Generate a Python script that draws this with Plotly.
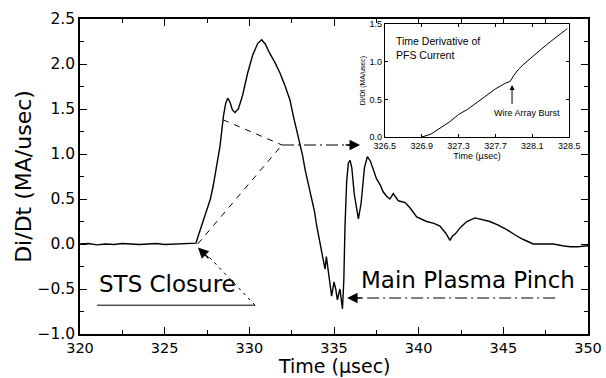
import plotly.graph_objects as go

# ---- main trace data (time in µs, dI/dt in MA/µs) ----
t_main = [320.0, 320.5, 321.0, 321.5, 322.0, 322.5, 323.0, 323.5, 324.0, 324.5,
          325.0, 325.5, 326.0, 326.5, 326.85, 327.0, 327.25, 327.48, 327.7, 327.87,
          328.05, 328.27, 328.47, 328.6, 328.72, 328.85, 329.0, 329.15, 329.35, 329.6,
          329.9, 330.2, 330.5, 330.73, 330.95, 331.2, 331.5, 331.81, 332.1, 332.4,
          332.6, 332.8, 333.0, 333.15, 333.29, 333.5, 333.68, 333.85, 333.98, 334.1,
          334.27, 334.4, 334.47, 334.55, 334.7, 334.86, 335.0, 335.1, 335.2, 335.35,
          335.5, 335.58, 335.65, 335.75, 335.85, 335.95, 336.05, 336.2, 336.44, 336.6,
          336.8, 336.97, 337.15, 337.35, 337.52, 337.72, 337.9, 338.11, 338.3, 338.5,
          338.8, 339.2, 339.5, 339.88, 340.2, 340.47, 340.9, 341.26, 341.6, 341.85,
          342.0, 342.15, 342.5, 342.84, 343.33, 343.8, 344.2, 344.7, 345.2, 345.7,
          346.18, 346.77, 347.3, 347.95, 348.5, 348.94, 349.4, 350.0]
di_main = [0.0, 0.005, -0.01, 0.0, -0.005, 0.005, 0.0, -0.005, 0.0, 0.005,
           -0.005, 0.0, 0.0, 0.005, 0.01, 0.1, 0.24, 0.36, 0.5, 0.65,
           0.85, 1.09, 1.42, 1.56, 1.62, 1.58, 1.49, 1.46, 1.5, 1.65,
           1.9, 2.1, 2.23, 2.27, 2.22, 2.12, 2.02, 1.9, 1.76, 1.6,
           1.42, 1.27, 1.12, 0.98, 0.83, 0.66, 0.5, 0.36, 0.2, 0.08,
           -0.09, -0.2, -0.28, -0.14, -0.36, -0.58, -0.42, -0.5, -0.62, -0.5,
           -0.72, -0.4, 0.2, 0.7, 0.9, 0.93, 0.85, 0.55, 0.28, 0.45,
           0.85, 0.97, 0.92, 0.8, 0.72, 0.66, 0.58, 0.53, 0.5, 0.56,
           0.48, 0.46, 0.4, 0.3, 0.27, 0.25, 0.23, 0.2, 0.12, 0.04,
           0.09, 0.11, 0.19, 0.25, 0.29, 0.27, 0.25, 0.21, 0.16, 0.1,
           0.05, 0.0, 0.0, 0.0, -0.02, -0.03, -0.03, -0.02]

# ---- inset data ----
t_inset = [326.9, 327.0, 327.1, 327.2, 327.3, 327.4, 327.5, 327.6, 327.7, 327.8,
           327.86, 327.9, 327.95, 328.0, 328.1, 328.2, 328.3, 328.4, 328.48]
di_inset = [0.0, 0.04, 0.12, 0.2, 0.3, 0.37, 0.46, 0.55, 0.64, 0.71,
            0.74, 0.82, 0.9, 0.96, 1.07, 1.17, 1.27, 1.36, 1.44]

main_xticks = [320, 325, 330, 335, 340, 345, 350]
main_yticks = [-1.0, -0.5, 0.0, 0.5, 1.0, 1.5, 2.0, 2.5]
inset_xticks = [326.5, 326.9, 327.3, 327.7, 328.1, 328.5]
inset_yticks = [0.0, 0.5, 1.0, 1.5]

# ---- annotation guide lines (data coords) ----
sts_line_x = [321.0, 330.34, 327.5]
sts_line_y = [-0.68, -0.68, -0.12]
pinch_line_x = [348.06, 336.3]
pinch_line_y = [-0.6, -0.6]
peak_lines_x = [328.45, 331.93, None, 326.95, 331.93]
peak_lines_y = [1.38, 1.10, None, 0.0, 1.10]
vertex_arrow_x = [331.93, 336.0]
vertex_arrow_y = [1.10, 1.10]

FONT = "DejaVu Sans"
SMALL = "Liberation Sans"

fig = go.Figure()
fig.add_trace(go.Scatter(x=t_main, y=di_main, mode="lines",
                         line=dict(color="black", width=1.4), xaxis="x", yaxis="y",
                         showlegend=False, hoverinfo="skip"))
fig.add_trace(go.Scatter(x=sts_line_x[:2], y=sts_line_y[:2], mode="lines",
                         line=dict(color="black", width=1.0), showlegend=False))
fig.add_trace(go.Scatter(x=sts_line_x[1:], y=sts_line_y[1:], mode="lines",
                         line=dict(color="black", width=1.0, dash="3px,4px"), showlegend=False))
fig.add_trace(go.Scatter(x=pinch_line_x, y=pinch_line_y, mode="lines",
                         line=dict(color="black", width=1.0, dash="12px,4px,2px,4px"), showlegend=False))
fig.add_trace(go.Scatter(x=peak_lines_x, y=peak_lines_y, mode="lines", connectgaps=False,
                         line=dict(color="black", width=1.0, dash="6px,6px"), showlegend=False))
fig.add_trace(go.Scatter(x=vertex_arrow_x, y=vertex_arrow_y, mode="lines",
                         line=dict(color="black", width=1.0, dash="12px,4px,2px,4px"), showlegend=False))
fig.add_trace(go.Scatter(x=t_inset, y=di_inset, mode="lines",
                         line=dict(color="black", width=1.0), xaxis="x2", yaxis="y2",
                         showlegend=False, hoverinfo="skip"))

axis_common = dict(showline=True, linecolor="black", mirror="ticks", ticks="inside",
                   tickcolor="black", showgrid=False, zeroline=False, automargin=False)

fig.update_layout(
    width=606, height=378,
    margin=dict(l=80, r=18, t=19, b=44, autoexpand=False),
    paper_bgcolor="white", plot_bgcolor="white",
    font=dict(family=FONT, color="black"),
    xaxis=dict(domain=[0, 1], range=[320, 350], tickvals=main_xticks,
               ticklen=7, linewidth=1.5, tickwidth=1.2,
               minor=dict(dtick=2.5, tick0=320, ticks="inside", ticklen=4, tickcolor="black"),
               tickfont=dict(size=14.5, family=FONT),
               **axis_common),
    yaxis=dict(domain=[0, 1], range=[-1.0, 2.5], tickvals=main_yticks, tickformat=".1f",
               ticklen=7, linewidth=1.5, tickwidth=1.2,
               minor=dict(dtick=0.25, tick0=0, ticks="inside", ticklen=4, tickcolor="black"),
               tickfont=dict(size=15.5, family=FONT),
               title=dict(text="Di/Dt (MA/usec)", font=dict(size=22, family=FONT), standoff=0),
               **axis_common),
    xaxis2=dict(domain=[0.600, 0.963], anchor="y2", range=[326.5, 328.5],
                tickvals=inset_xticks, ticktext=[f"{v:.1f}" for v in inset_xticks],
                ticklen=3, linewidth=1.2, tickwidth=1,
                tickfont=dict(size=9, family=SMALL),
                title=dict(text="Time (µsec)", font=dict(size=9, family=SMALL), standoff=0),
                **axis_common),
    yaxis2=dict(domain=[0.625, 0.984], anchor="x2", range=[0, 1.5],
                tickvals=inset_yticks, tickformat=".1f",
                ticklen=3, linewidth=1.2, tickwidth=1,
                tickfont=dict(size=9, family=SMALL),
                title=dict(text="Di/Dt (MA/usec)", font=dict(size=7, family=SMALL), standoff=2),
                **axis_common),
)

annotations = [
    # main x-axis title
    dict(x=0.5, y=-44 / 315, xref="paper", yref="paper", text="Time (µsec)", showarrow=False,
         xanchor="center", yanchor="bottom", borderpad=0, font=dict(size=19, family=FONT)),
    dict(x=321.0, y=-0.44, xref="x", yref="y", text="STS Closure", showarrow=False,
         xanchor="left", yanchor="middle", font=dict(size=23, family=FONT)),
    dict(x=336.5, y=-0.40, xref="x", yref="y", text="Main Plasma Pinch", showarrow=False,
         xanchor="left", yanchor="middle", font=dict(size=23, family=FONT)),
    # arrowheads
    dict(x=326.97, y=-0.04, xref="x", yref="y", text="", showarrow=True, arrowhead=2,
         arrowsize=1.4, arrowwidth=1.5, ax=12, ay=12, arrowcolor="black"),
    dict(x=335.77, y=-0.6, xref="x", yref="y", text="", showarrow=True, arrowhead=2,
         arrowsize=1.4, arrowwidth=1.5, ax=16, ay=0, arrowcolor="black"),
    dict(x=336.54, y=1.10, xref="x", yref="y", text="", showarrow=True, arrowhead=2,
         arrowsize=1.4, arrowwidth=1.5, ax=-16, ay=0, arrowcolor="black"),
    # inset labels
    dict(x=326.6, y=1.38, xref="x2", yref="y2", text="Time Derivative of<br>PFS Current",
         showarrow=False, xanchor="left", yanchor="top", align="left",
         font=dict(size=10.5, family=SMALL)),
    dict(x=328.04, y=0.32, xref="x2", yref="y2", text="Wire Array Burst", showarrow=False,
         xanchor="center", yanchor="middle", font=dict(size=9, family=SMALL)),
    dict(x=327.88, y=0.69, xref="x2", yref="y2", text="", showarrow=True, arrowhead=2,
         arrowsize=1, arrowwidth=1, ax=327.88, ay=0.42, axref="x2", ayref="y2",
         arrowcolor="black"),
]
fig.update_layout(annotations=annotations)

fig.write_html("out.html")
